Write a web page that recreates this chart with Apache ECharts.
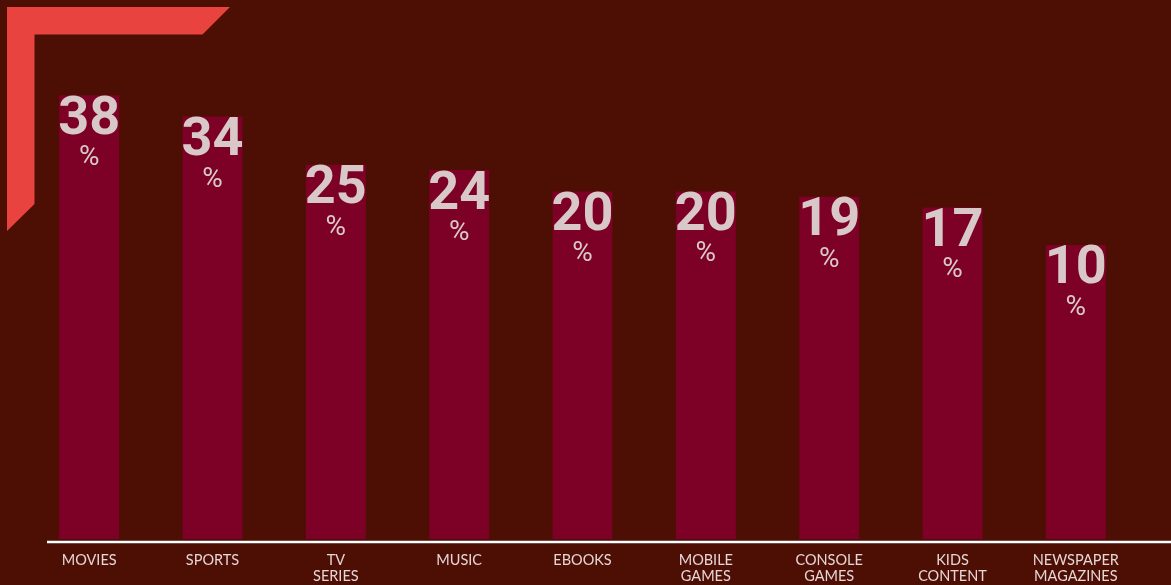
<!DOCTYPE html>
<html>
<head>
<meta charset="utf-8">
<style>
  html, body { margin: 0; padding: 0; background: #4d0e04; }
  #chart { width: 1171px; height: 585px; }
</style>
<script src="https://cdn.jsdelivr.net/npm/echarts@6/dist/echarts.min.js"></script>
</head>
<body>
<div id="chart"></div>
<script>
// Share of respondents by content type (percent)
const categories = ['MOVIES', 'SPORTS', 'TV\nSERIES', 'MUSIC', 'EBOOKS', 'MOBILE\nGAMES', 'CONSOLE\nGAMES', 'KIDS\nCONTENT', 'NEWSPAPER\nMAGAZINES'];
const shares = [38, 34, 25, 24, 20, 20, 19, 17, 10];

// Bars grow from a baseline set below zero, so short bars keep room for their labels
const baseValue = -45;
const topValue = 40;

const chart = echarts.init(document.getElementById('chart'), null, { renderer: 'canvas' });

chart.setOption({
  backgroundColor: '#4d0e04',
  animation: false,
  grid: { left: 27.5, right: 33.5, top: 84.5, bottom: 44, containLabel: false },
  xAxis: {
    type: 'category',
    data: categories,
    axisLine: { show: false },
    axisTick: { show: false },
    axisLabel: {
      color: '#e6d6d6',
      fontFamily: 'Lato',
      fontSize: 14.5,
      lineHeight: 16.5,
      margin: 13,
      interval: 0
    }
  },
  yAxis: {
    type: 'value',
    min: baseValue,
    max: topValue,
    startValue: baseValue,
    show: false,
    splitLine: { show: false }
  },
  series: [{
    type: 'bar',
    data: shares,
    barWidth: 60,
    itemStyle: { color: '#7d0026' },
    label: {
      show: true,
      position: 'insideTop',
      distance: 3,
      formatter: p => '{n|' + p.value + '}\n{p|%}',
      rich: {
        n: { fontFamily: 'Roboto', fontWeight: 'bold', fontSize: 54, lineHeight: 44, color: '#d8c8c8' },
        p: { fontFamily: 'Roboto', fontSize: 28, lineHeight: 32, color: '#d8c8c8' }
      }
    }
  }],
  graphic: [
    {
      // corner bracket ornament
      type: 'polygon',
      shape: { points: [[7, 7], [230, 7], [202.5, 34.5], [34.5, 34.5], [34.5, 204], [7, 231]] },
      style: { fill: '#e8433f' },
      z: 10
    },
    {
      // baseline rule
      type: 'line',
      shape: { x1: 47, y1: 542, x2: 1171, y2: 542 },
      style: { stroke: '#ffffff', lineWidth: 2.6 },
      z: 10
    }
  ]
});
</script>
</body>
</html>
